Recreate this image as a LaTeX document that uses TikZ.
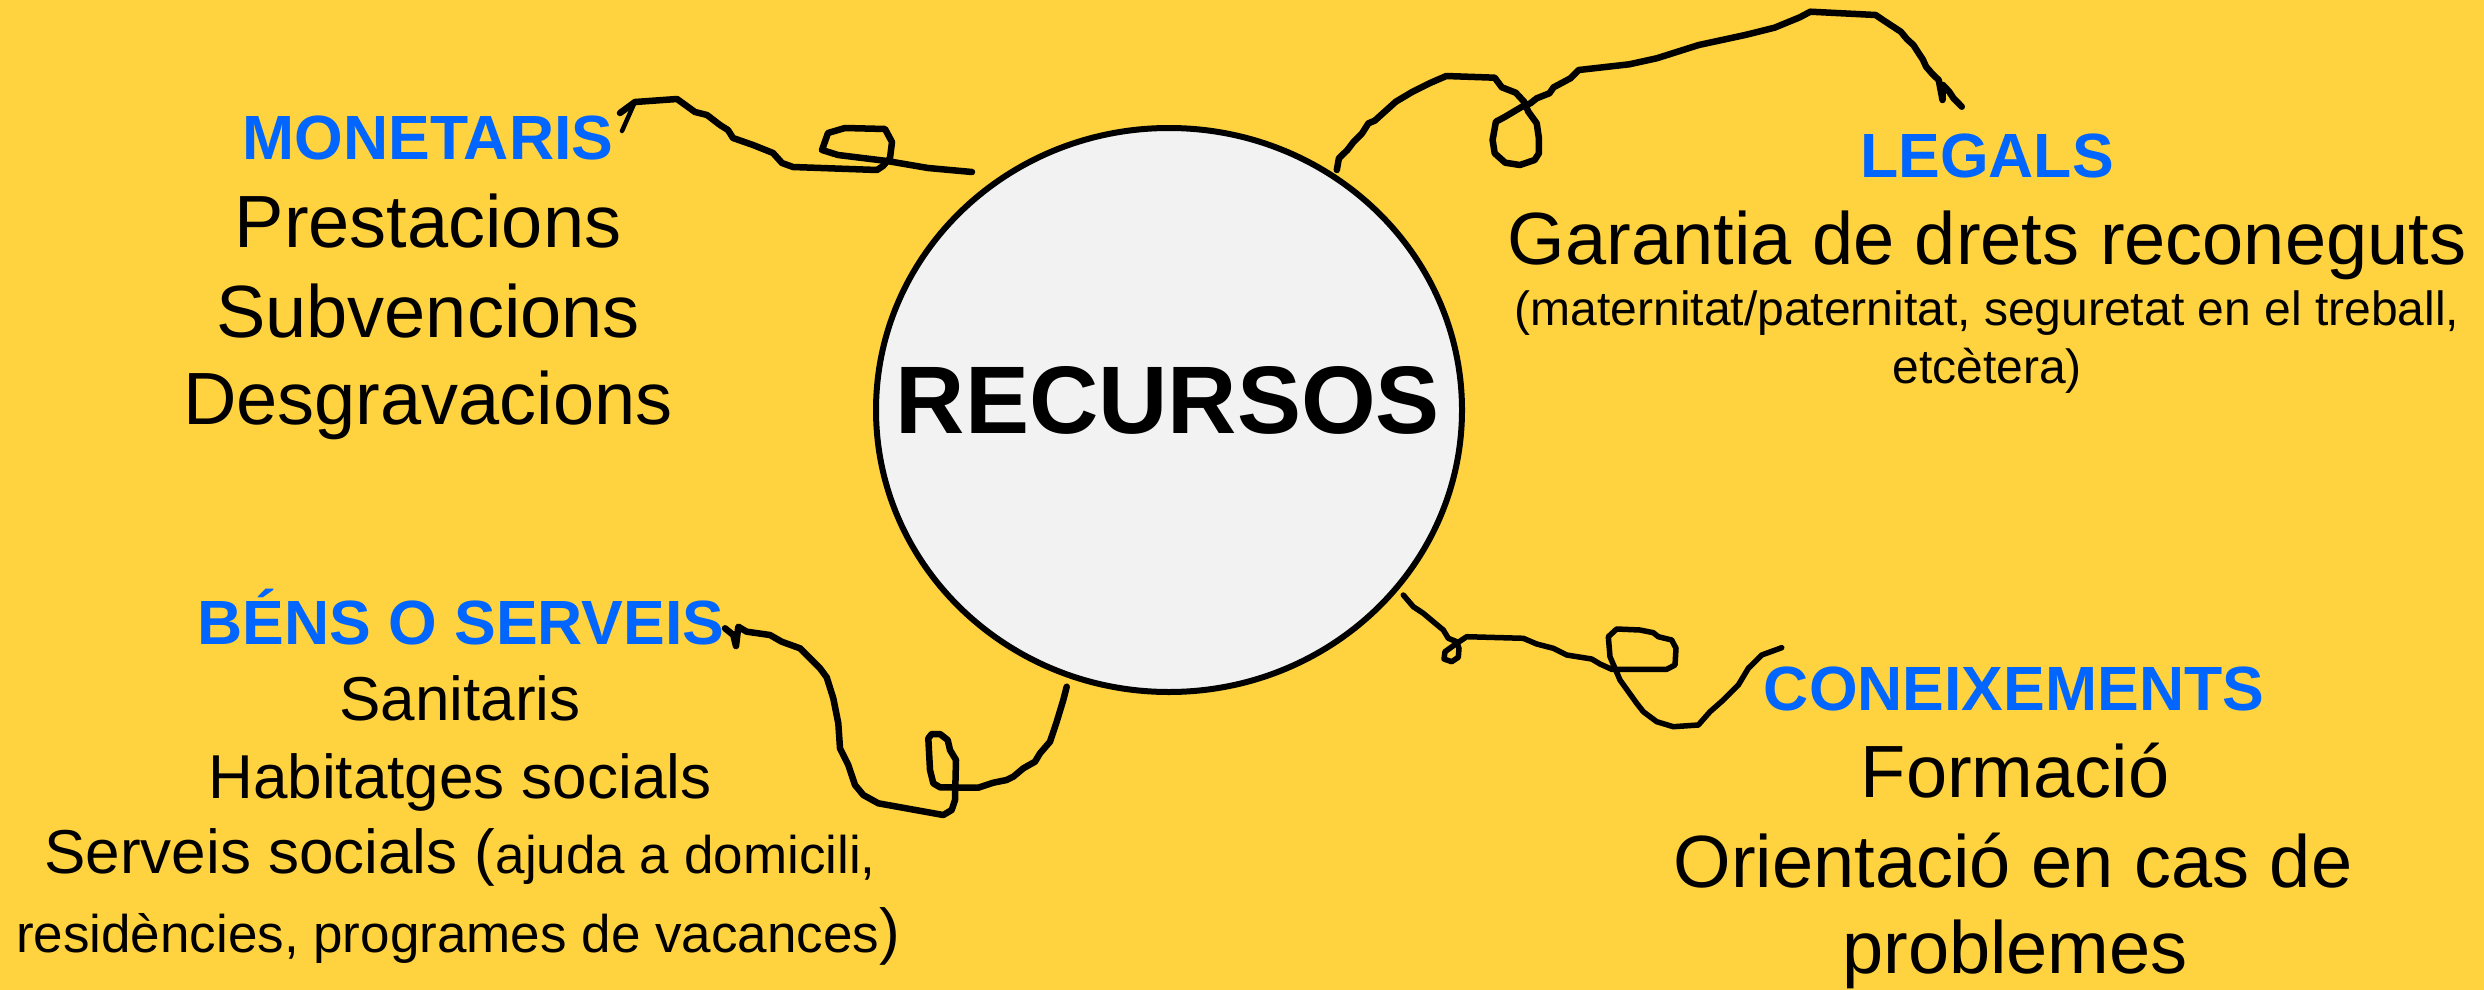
\documentclass[tikz,border=0pt]{standalone}
\usepackage{fontspec}
\setmainfont{Liberation Sans}
\usetikzlibrary{shapes.geometric}
\definecolor{bgyellow}{RGB}{255,210,64}
\definecolor{lblblue}{RGB}{0,102,255}
\definecolor{circfill}{RGB}{242,242,242}
\newcommand{\myfs}[1]{\fontsize{#1}{#1}\selectfont}
\begin{document}
\begin{tikzpicture}[x=1pt,y=-1pt,
  hdtext/.style={font=\myfs{62.5}\bfseries, text=lblblue, anchor=base, inner sep=0pt},
  bigtext/.style={font=\myfs{74}, anchor=base, inner sep=0pt},
  midtext/.style={font=\myfs{62}, anchor=base, inner sep=0pt},
  smalltext/.style={font=\myfs{48}, anchor=base, inner sep=0pt},
  squiggle/.style={draw=black, line width=6.5pt, line join=round, line cap=round},
]
\fill[bgyellow] (0,0) rectangle (2484,990);
\useasboundingbox (0,0) rectangle (2484,990);

% central circle
\node[ellipse, draw=black, line width=6pt, fill=circfill, minimum width=586pt, minimum height=564pt, inner sep=0pt] (rec) at (1169,410) {};
\node[font=\myfs{96}\bfseries, anchor=base, inner sep=0pt] (rectext) at (1168,433) {RECURSOS};

% MONETARIS
\node[hdtext] (mon) at (428,159) {MONETARIS};
\node[bigtext] (mon1) at (428,247) {Prestacions};
\node[bigtext] (mon2) at (428,337) {Subvencions};
\node[bigtext] (mon3) at (428,424) {Desgravacions};

% LEGALS
\node[hdtext] (leg) at (1987,177) {LEGALS};
\node[bigtext] (leg1) at (1987,264) {Garantia de drets reconeguts};
\node[smalltext] (leg2) at (1987,325) {(maternitat/paternitat, seguretat en el treball,};
\node[smalltext] (leg3) at (1987,383) {etcètera)};

% BENS O SERVEIS
\node[hdtext] (ben) at (461,644) {BÉNS O SERVEIS};
\node[midtext] (ben1) at (460,720) {Sanitaris};
\node[midtext] (ben2) at (460,798) {Habitatges socials};
\node[anchor=base, inner sep=0pt] (ben3) at (460,873) {\myfs{62}Serveis socials (\myfs{53}ajuda a domicili,};
\node[anchor=base, inner sep=0pt] (ben4) at (458,952) {\myfs{53}residències, programes de vacances\myfs{62})};

% CONEIXEMENTS
\node[hdtext] (con) at (2014,710) {CONEIXEMENTS};
\node[bigtext] (con1) at (2015,797) {Formació};
\node[bigtext] (con2) at (2013,887) {Orientació en cas de};
\node[bigtext] (con3) at (2015,973) {problemes};

% connector end points
\coordinate (monA) at (972,172);
\coordinate (monB) at (620,113);
\coordinate (legA) at (1336.8,170);
\coordinate (legB) at (1961.8,106.7);
\coordinate (benA) at (1066.7,686.7);
\coordinate (benB) at (725,628.3);
\coordinate (conA) at (1403.3,595);
\coordinate (conB) at (1781.7,647.7);

% MONETARIS connector
\draw[squiggle] (monA) -- (928,168) -- (887,161) -- (838,155) -- (822,150) -- (828,133) -- (845,128) -- (885,129) -- (892,142) -- (890,158) -- (883,166) -- (877,170) -- (793,167) -- (782,163) -- (773,153) -- (753,145) -- (733,138) -- (728,130) -- (720,125) -- (707,115) -- (695,112) -- (677,99) -- (635,102) -- (monB);
\draw[squiggle, line width=4.5pt] (634,104) -- (622,131);

% LEGALS connector
\draw[squiggle] (legA) -- (1338.9,158.3) -- (1347.4,150) -- (1353.7,141.7) -- (1362.1,133.3) -- (1368.4,123.3) -- (1374.7,120.7) -- (1395.8,101.7) -- (1412.6,91.7) -- (1429.4,83.3) -- (1446.3,76) -- (1494.7,77.7) -- (1501.8,87.3) -- (1515.7,92.7) -- (1524.1,101.7) -- (1528.3,111.7) -- (1536.7,123.3) -- (1538.9,138.3) -- (1538.9,153.3) -- (1534.6,160) -- (1519.9,165) -- (1505.2,162.7) -- (1494.7,153.3) -- (1492.6,140) -- (1495.9,121.7) -- (1505.2,116.7) -- (1522,106.7) -- (1530.4,103.3) -- (1536.7,98.3) -- (1549.4,93.3) -- (1553.6,87.3) -- (1570.4,78.3) -- (1578.8,70) -- (1629.3,64.3) -- (1656.7,58.3) -- (1698.8,45) -- (1745.1,35) -- (1774.5,27.7) -- (1799.8,17.3) -- (1810.3,11.7) -- (1875.6,15) -- (1884,20.7) -- (1900.8,31.7) -- (1907.1,39.3) -- (1913.4,45) -- (1917.7,51.7) -- (1922.7,59.3) -- (1926.1,66.7) -- (1932.4,74) -- (1938.7,80) -- (1942.5,100) -- (1942.9,85) -- (1949.2,91.7) -- (1953.5,98.3) -- (legB);

% BENS connector
\draw[squiggle] (benA) -- (1063.3,700) -- (1056.7,721.7) -- (1050,741.7) -- (1040,753.3) -- (1035,761.7) -- (1023.3,768.3) -- (1013.3,776.7) -- (1006.7,780) -- (993.3,782.7) -- (978.3,787.7) -- (940,787.3) -- (933.3,783.3) -- (930,770) -- (928.3,738.3) -- (931.7,734) -- (940,734) -- (947.7,740) -- (950,750) -- (956,760) -- (955,800) -- (951.7,810) -- (943.3,815) -- (878.3,803.3) -- (863.3,795) -- (855,785) -- (848.3,765) -- (840,748.3) -- (838.3,723.3) -- (833.3,698.3) -- (826.7,677.3) -- (820,668.3) -- (800,648.3) -- (781.7,641.7) -- (770,635) -- (746.7,631.7) -- (738.3,626.7) -- (736,646) -- (733.3,635) -- (benB);

% CONEIXEMENTS connector
\draw[squiggle, line width=5.5pt] (conA) -- (1413.3,606.7) -- (1423.3,613.3) -- (1433.3,621.7) -- (1443.3,630) -- (1448.3,638.3) -- (1456.7,641.7) -- (1459,648.3) -- (1458.3,657.3) -- (1451.7,661.7) -- (1444,659) -- (1445,651.7) -- (1456.7,643.3) -- (1466.7,636.7) -- (1523.3,638.3) -- (1536.7,644) -- (1553.3,648.3) -- (1566.7,655) -- (1591.7,659) -- (1600,664) -- (1611.7,669.3) -- (1666.7,669.3) -- (1675,665) -- (1676,648.3) -- (1671.7,640) -- (1658.3,636.7) -- (1653.3,632.7) -- (1640,630) -- (1616.7,629) -- (1608.3,636.7) -- (1610,656.7) -- (1620,680) -- (1636.7,703.3) -- (1643.3,711.7) -- (1656.7,721.7) -- (1673.3,726.7) -- (1698.3,725) -- (1710,711.7) -- (1723.3,700) -- (1738.3,685) -- (1748.3,668.3) -- (1761.7,655) -- (conB);
\end{tikzpicture}
\end{document}
